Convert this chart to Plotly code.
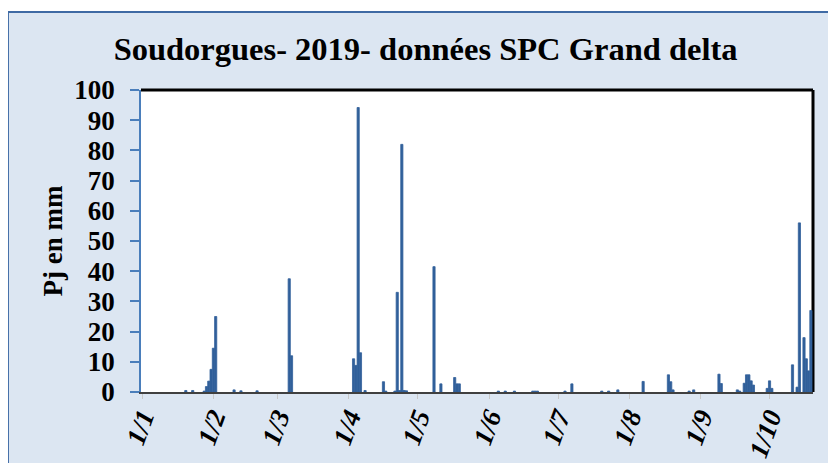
import plotly.graph_objects as go

# daily rainfall (mm), Soudorgues 2019 - only days with rain
dates = [
    "2019-01-20", "2019-01-23", "2019-01-28", "2019-01-29", "2019-01-30", "2019-01-31",
    "2019-02-01", "2019-02-02", "2019-02-10", "2019-02-13", "2019-02-20",
    "2019-03-06", "2019-03-07",
    "2019-04-03", "2019-04-04", "2019-04-05", "2019-04-06", "2019-04-08",
    "2019-04-16", "2019-04-17", "2019-04-21", "2019-04-22", "2019-04-23", "2019-04-24",
    "2019-04-25", "2019-04-26",
    "2019-05-08", "2019-05-11", "2019-05-17", "2019-05-18", "2019-05-19",
    "2019-06-05", "2019-06-08", "2019-06-12", "2019-06-20", "2019-06-21", "2019-06-22",
    "2019-07-04", "2019-07-07", "2019-07-20", "2019-07-23", "2019-07-27",
    "2019-08-07", "2019-08-18", "2019-08-19", "2019-08-20", "2019-08-27", "2019-08-29",
    "2019-09-09", "2019-09-10", "2019-09-17", "2019-09-18", "2019-09-20", "2019-09-21",
    "2019-09-22", "2019-09-23", "2019-09-24", "2019-09-30",
    "2019-10-01", "2019-10-02", "2019-10-11", "2019-10-13", "2019-10-14", "2019-10-16",
    "2019-10-17", "2019-10-18", "2019-10-19",
]
pluie = [
    0.5, 0.5, 0.3, 1.8, 3.6, 7.5,
    14.5, 25, 0.7, 0.4, 0.4,
    37.5, 12,
    11, 8.8, 94.2, 13, 0.5,
    3.4, 0.3, 0.3, 33, 0.5, 82,
    0.5, 0.4,
    41.5, 2.7, 4.8, 2.7, 2.7,
    0.3, 0.3, 0.3, 0.3, 0.3, 0.3,
    0.3, 2.7, 0.3, 0.3, 0.7,
    3.5, 5.7, 3.4, 0.7, 0.3, 0.7,
    5.9, 2.8, 0.7, 0.3, 2.9, 5.7,
    5.7, 3.7, 2.3, 1.2,
    3.7, 1.2, 9, 1.6, 56, 18,
    11, 7, 27,
]

serif = "Liberation Serif, Times New Roman, serif"
bg = "#DCE6F2"
bar_col = "#31609A"

fig = go.Figure(go.Bar(x=dates, y=pluie, marker=dict(color=bar_col, line=dict(color=bar_col, width=0.8))))

# the page body adds 8px margin, margins below compensate for it
fig.update_layout(
    width=836, height=463,
    margin=dict(l=133, r=31, t=82, b=79),
    paper_bgcolor=bg, plot_bgcolor="white",
    bargap=0.05, showlegend=False,
    title=dict(text="Soudorgues- 2019- données SPC Grand delta",
               font=dict(family=serif, size=32.5, color="black", weight="bold"),
               x=0.4995, xanchor="center", y=0.913, yanchor="middle", xref="container", yref="container"),
    shapes=[
        # white margin outside the chart frame
        dict(type="rect", xref="paper", yref="paper", x0=-1, x1=3, y0=1.258, y1=3,
             fillcolor="white", line_width=0, layer="below"),
        dict(type="rect", xref="paper", yref="paper", x0=-1, x1=-0.198, y0=-3, y1=3,
             fillcolor="white", line_width=0, layer="below"),
        # chart frame
        dict(type="rect", xref="paper", yref="paper", x0=-0.198, x1=3, y0=-3, y1=1.258,
             line=dict(color="#3F6AA4", width=2), layer="below"),
        # black top / right border of plot area
        dict(type="line", xref="paper", yref="paper", x0=0, x1=1, y0=1, y1=1,
             line=dict(color="black", width=3), layer="below"),
        dict(type="line", xref="paper", yref="paper", x0=1, x1=1, y0=0, y1=1,
             line=dict(color="black", width=3), layer="below"),
    ],
)

fig.update_xaxes(
    type="date", range=["2018-12-31 12:00", "2019-10-19 22:00"],
    tickformat="%-d/%-m", dtick="M1", tick0="2019-01-01", automargin=False,
    tickangle=-70, tickfont=dict(family=serif, size=27, color="black", weight="bold", style="italic"),
    showgrid=False, showline=True, linecolor="#404040", linewidth=1.5,
    ticks="outside", ticklen=5, tickcolor="#C8C8C8", ticklabelstandoff=-8,
)
fig.update_yaxes(
    range=[0, 100], dtick=10, showgrid=False, zeroline=False, automargin=False,
    showline=True, linecolor="#4A7EBB", linewidth=1.5,
    ticks="outside", ticklen=9, tickcolor="#4A7EBB", tickwidth=1.5,
    tickfont=dict(family=serif, size=27, color="black", weight="bold"),
    ticklabelstandoff=10,
    title=dict(text="Pj en mm", font=dict(family=serif, size=27, color="black", weight="bold"),
               standoff=4),
)

fig.write_html("out.html")
